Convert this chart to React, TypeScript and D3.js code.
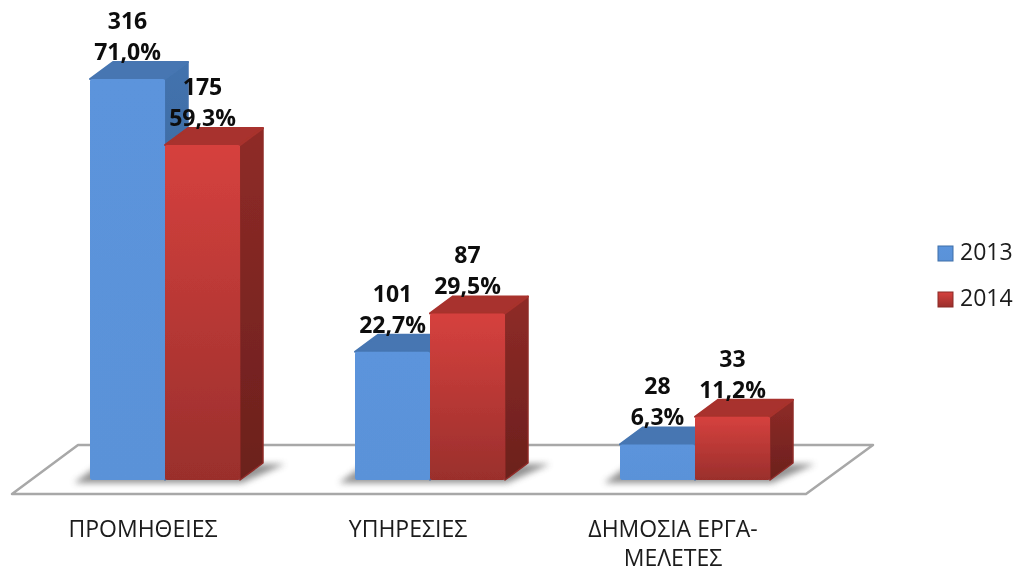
import React, { useEffect, useRef } from "react";
import * as d3 from "d3";

const categories = ["ΠΡΟΜΗΘΕΙΕΣ", "ΥΠΗΡΕΣΙΕΣ", "ΔΗΜΟΣΙΑ ΕΡΓΑ-|ΜΕΛΕΤΕΣ"];
const years = ["2013", "2014"];
const counts2013 = [316, 101, 28];
const counts2014 = [175, 87, 33];
const percents2013 = [71.0, 22.7, 6.3];
const percents2014 = [59.3, 29.5, 11.2];

const width = 1018;
const height = 569;
const baseY = 480;
const depthX = 23;
const depthY = 17;
const font = "'Open Sans', 'Noto Sans', sans-serif";

type Row = { cat: string; year: string; count: number; pct: number };

const rows: Row[] = categories.flatMap((cat, i) => [
  { cat, year: years[0], count: counts2013[i], pct: percents2013[i] },
  { cat, year: years[1], count: counts2014[i], pct: percents2014[i] },
]);

const colors: any = {
  "2013": { top: "#4676b2", side: ["#4373ae", "#33598a"], front: ["#5b94dc", "#5a92d8"], edge: "#3f6fa8" },
  "2014": { top: "#a8312d", side: ["#8f2b27", "#6b201d"], front: ["#d6413e", "#9a2f2c"], edge: "#8a2a26" },
};

function pts(p: number[][]) {
  return p.map((d) => d.join(",")).join(" ");
}

export default function App() {
  const ref = useRef<SVGSVGElement>(null);

  useEffect(() => {
    const svg = d3.select(ref.current);
    svg.selectAll("*").remove();

    const x0 = d3.scaleBand().domain(categories).range([90, 770]).paddingInner(115 / 265).paddingOuter(0);
    const x1 = d3.scaleBand().domain(years).range([0, x0.bandwidth()]);
    const y = d3.scaleLinear().domain([0, 71]).range([baseY, 79]);

    const defs = svg.append("defs");
    defs.append("filter").attr("id", "soft").attr("x", "-30%").attr("y", "-60%").attr("width", "160%").attr("height", "220%")
      .append("feGaussianBlur").attr("stdDeviation", 3);
    defs.append("filter").attr("id", "txt").attr("x", "-10%").attr("y", "-20%").attr("width", "120%").attr("height", "140%")
      .append("feGaussianBlur").attr("stdDeviation", 0.4);

    years.forEach((yr) => {
      const c = colors[yr];
      const f = defs.append("linearGradient").attr("id", "front" + yr).attr("x1", 0).attr("y1", 0).attr("x2", 0).attr("y2", 1);
      f.append("stop").attr("offset", 0).attr("stop-color", c.front[0]);
      f.append("stop").attr("offset", 1).attr("stop-color", c.front[1]);
      const s = defs.append("linearGradient").attr("id", "side" + yr).attr("x1", 0).attr("y1", 0).attr("x2", 0).attr("y2", 1);
      s.append("stop").attr("offset", 0).attr("stop-color", c.side[0]);
      s.append("stop").attr("offset", 1).attr("stop-color", c.side[1]);
    });

    // floor
    svg.append("polygon")
      .attr("points", pts([[12, 494], [78, 445], [873, 445], [806, 494]]))
      .attr("fill", "#fff")
      .attr("stroke", "#a8a8a8")
      .attr("stroke-width", 2.5)
      .attr("stroke-linejoin", "round")
      .attr("filter", "url(#txt)");

    // ground shadow under each pair of bars
    categories.forEach((cat) => {
      const left = x0(cat)!;
      const right = left + x0.bandwidth();
      svg.append("polygon")
        .attr("points", pts([[left - 16, baseY + 3], [right + 2, baseY + 3], [right + depthX + 22, baseY - depthY + 1], [left + 10, baseY - depthY + 1]]))
        .attr("fill", "#777")
        .attr("opacity", 0.8)
        .attr("filter", "url(#soft)");
    });

    const bars = svg.selectAll("g.bar").data(rows).join("g").attr("class", "bar")
      .attr("filter", "url(#txt)");

    // left to right, so each red bar overlaps the side of its blue neighbour
    bars.append("polygon")
      .attr("points", (d) => {
        const l = x0(d.cat)! + x1(d.year)!;
        const r = l + x1.bandwidth();
        const t = y(d.pct);
        return pts([[r, t], [r + depthX, t - depthY], [r + depthX, baseY - depthY], [r, baseY]]);
      })
      .attr("fill", (d) => `url(#side${d.year})`)
      .attr("stroke", (d) => colors[d.year].side[0])
      .attr("stroke-width", 1.5)
      .attr("stroke-linejoin", "round");

    bars.append("polygon")
      .attr("points", (d) => {
        const l = x0(d.cat)! + x1(d.year)!;
        const r = l + x1.bandwidth();
        const t = y(d.pct);
        return pts([[l, t], [l + depthX, t - depthY], [r + depthX, t - depthY], [r, t]]);
      })
      .attr("fill", (d) => colors[d.year].top)
      .attr("stroke", (d) => colors[d.year].top)
      .attr("stroke-width", 2)
      .attr("stroke-linejoin", "round");

    bars.append("rect")
      .attr("x", (d) => x0(d.cat)! + x1(d.year)!)
      .attr("y", (d) => y(d.pct))
      .attr("width", x1.bandwidth())
      .attr("height", (d) => baseY - y(d.pct))
      .attr("rx", 2)
      .attr("fill", (d) => `url(#front${d.year})`);

    // value labels, count over percent
    const labels = svg.selectAll("g.lab").data(rows).join("g").attr("class", "lab")
      .attr("font-family", font)
      .attr("font-size", 23)
      .attr("font-weight", 700)
      .attr("fill", "#111")
      .attr("text-anchor", "middle")
      .attr("filter", "url(#txt)");
    labels.append("text")
      .attr("x", (d) => x0(d.cat)! + x1(d.year)! + x1.bandwidth() / 2)
      .attr("y", (d) => y(d.pct) - depthY - 33)
      .text((d) => d.count);
    labels.append("text")
      .attr("x", (d) => x0(d.cat)! + x1(d.year)! + x1.bandwidth() / 2)
      .attr("y", (d) => y(d.pct) - depthY - 2)
      .text((d) => d.pct.toFixed(1).replace(".", ",") + "%");

    // category labels, sit left of the bar pair centre
    const cats = svg.selectAll("text.cat").data(categories).join("text").attr("class", "cat")
      .attr("font-family", font)
      .attr("font-size", 23)
      .attr("fill", "#1a1a1a")
      .attr("text-anchor", "middle")
      .attr("filter", "url(#txt)");
    cats.selectAll("tspan").data((d) => d.split("|").map((t) => ({ t, c: d }))).join("tspan")
      .attr("x", (d) => x0(d.c)! + x0.bandwidth() / 2 - 22)
      .attr("y", (_, i) => 537 + i * 29)
      .text((d) => d.t);

    // legend
    const legendY = d3.scalePoint().domain(years).range([260, 306]);
    const leg = svg.selectAll("g.leg").data(years).join("g").attr("class", "leg");
    leg.append("rect")
      .attr("x", 938)
      .attr("y", (d) => legendY(d)! - 14)
      .attr("width", 15)
      .attr("height", 15)
      .attr("fill", (d) => `url(#front${d})`)
      .attr("stroke", (d) => colors[d].edge)
      .attr("stroke-width", 1);
    leg.append("text")
      .attr("x", 960)
      .attr("y", (d) => legendY(d)!)
      .attr("font-family", font)
      .attr("font-size", 23)
      .attr("fill", "#1a1a1a")
      .attr("filter", "url(#txt)")
      .text((d) => d);
  }, []);

  return (
    <svg
      ref={ref}
      width={width}
      height={height}
      style={{ position: "absolute", left: 0, top: 0, background: "#fff" }}
    />
  );
}
